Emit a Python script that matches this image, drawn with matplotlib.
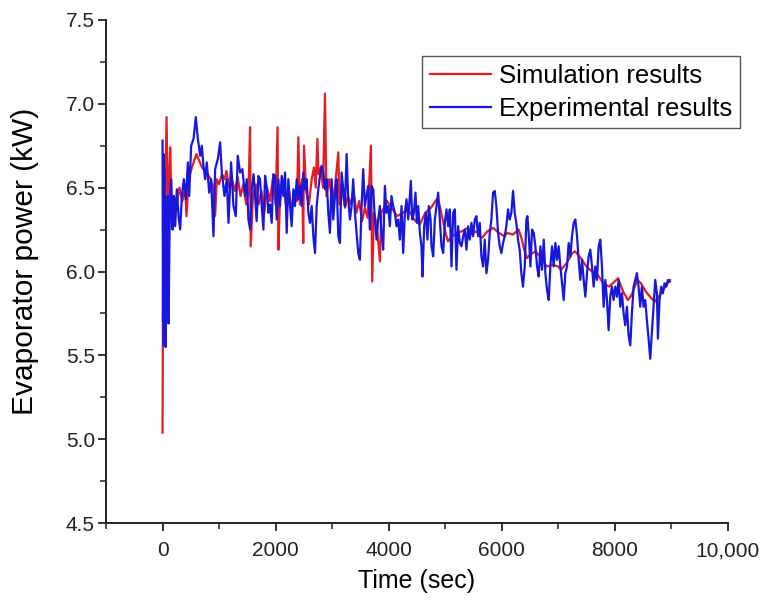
import matplotlib.pyplot as plt
from matplotlib.ticker import MultipleLocator

exp_t = [0, 8, 15, 22, 30, 38, 47, 55, 65, 77, 94, 106, 124, 140, 153, 177, 200, 224, 253, 283,
         312, 342, 377, 412, 448, 471, 507, 548, 589, 625, 666, 695, 724, 754, 783, 825, 860, 901, 931, 978,
         1019, 1049, 1096, 1137, 1167, 1213, 1255, 1296, 1331, 1372, 1413, 1461, 1490, 1520, 1550, 1579, 1610, 1638, 1665, 1696,
         1725, 1755, 1785, 1814, 1845, 1873, 1900, 1932, 1960, 1991, 2020, 2050, 2079, 2109, 2138, 2168, 2197, 2226, 2256, 2285,
         2315, 2344, 2374, 2403, 2433, 2462, 2491, 2521, 2550, 2580, 2609, 2639, 2668, 2698, 2727, 2756, 2786, 2815, 2845, 2874,
         2904, 2933, 2962, 2992, 3021, 3051, 3080, 3110, 3139, 3168, 3198, 3227, 3257, 3286, 3316, 3345, 3374, 3404, 3433, 3463,
         3492, 3522, 3551, 3580, 3610, 3639, 3669, 3698, 3728, 3757, 3787, 3816, 3845, 3875, 3904, 3934, 3963, 3993, 4022, 4051,
         4081, 4110, 4140, 4169, 4199, 4229, 4258, 4288, 4317, 4347, 4376, 4394, 4418, 4447, 4476, 4500, 4524, 4553, 4582, 4600,
         4630, 4659, 4688, 4712, 4742, 4759, 4789, 4818, 4848, 4877, 4907, 4936, 4966, 4995, 5024, 5054, 5083, 5113, 5142, 5172,
         5201, 5230, 5260, 5289, 5319, 5348, 5378, 5407, 5436, 5466, 5495, 5525, 5554, 5584, 5613, 5642, 5672, 5701, 5731, 5760,
         5790, 5819, 5848, 5878, 5907, 5937, 5966, 5996, 6025, 6054, 6084, 6113, 6143, 6172, 6202, 6231, 6260, 6290, 6319, 6349,
         6378, 6409, 6438, 6456, 6485, 6509, 6538, 6568, 6597, 6627, 6656, 6686, 6715, 6745, 6774, 6803, 6833, 6862, 6892, 6921,
         6951, 6980, 7010, 7039, 7069, 7098, 7127, 7157, 7186, 7216, 7245, 7275, 7304, 7334, 7363, 7392, 7422, 7451, 7481, 7510,
         7540, 7569, 7599, 7628, 7657, 7687, 7716, 7746, 7775, 7805, 7834, 7864, 7893, 7922, 7952, 7981, 8011, 8040, 8070, 8099,
         8129, 8158, 8187, 8217, 8246, 8276, 8305, 8335, 8364, 8394, 8423, 8452, 8482, 8511, 8541, 8570, 8600, 8629, 8659, 8688,
         8718, 8747, 8765, 8794, 8824, 8853, 8883, 8912, 8942, 8975]
exp_kw = [6.78, 5.70, 6.70, 5.56, 6.62, 5.60, 6.45, 5.55, 6.30, 5.71, 6.45, 5.69, 6.23, 6.50, 6.55, 6.25, 6.45, 6.27, 6.49, 6.33,
          6.25, 6.45, 6.55, 6.43, 6.65, 6.45, 6.75, 6.79, 6.92, 6.79, 6.69, 6.75, 6.63, 6.55, 6.65, 6.47, 6.55, 6.21, 6.61, 6.67,
          6.77, 6.59, 6.45, 6.55, 6.29, 6.65, 6.39, 6.33, 6.69, 6.59, 6.61, 6.45, 6.55, 6.31, 6.25, 6.49, 6.58, 6.45, 6.30, 6.57,
          6.55, 6.39, 6.25, 6.57, 6.50, 6.35, 6.40, 6.29, 6.58, 6.57, 6.31, 6.55, 6.39, 6.57, 6.45, 6.59, 6.23, 6.55, 6.39, 6.27,
          6.49, 6.39, 6.55, 6.43, 6.51, 6.39, 6.59, 6.49, 6.55, 6.35, 6.29, 6.39, 6.21, 6.11, 6.39, 6.49, 6.57, 6.63, 6.59, 6.49,
          6.55, 6.35, 6.23, 6.55, 6.31, 6.45, 6.55, 6.21, 6.17, 6.59, 6.49, 6.39, 6.70, 6.43, 6.31, 6.39, 6.55, 6.35, 6.23, 6.11,
          6.07, 6.39, 6.61, 6.39, 6.45, 6.51, 6.25, 6.51, 6.49, 6.31, 6.19, 6.31, 6.39, 6.23, 6.13, 6.51, 6.35, 6.39, 6.27, 6.45,
          6.39, 6.35, 6.27, 6.31, 6.19, 6.39, 6.11, 6.35, 6.43, 6.31, 6.45, 6.54, 6.31, 6.35, 6.47, 6.29, 6.39, 6.23, 6.15, 5.97,
          6.27, 6.35, 6.19, 6.39, 6.31, 6.15, 6.09, 6.31, 6.39, 6.47, 6.31, 6.15, 6.11, 6.29, 6.37, 6.27, 6.37, 6.03, 6.35, 6.37,
          6.01, 6.27, 6.17, 6.15, 6.21, 6.25, 6.13, 6.27, 6.19, 6.29, 6.21, 6.31, 6.33, 6.21, 6.29, 6.09, 6.03, 6.19, 5.99, 6.07,
          6.23, 6.31, 6.47, 6.48, 6.39, 6.23, 6.15, 6.11, 6.17, 6.21, 6.27, 6.37, 6.31, 6.35, 6.48, 6.35, 6.29, 6.19, 6.13, 5.99,
          5.91, 6.03, 6.31, 6.33, 6.19, 6.03, 6.25, 6.23, 6.15, 6.03, 5.97, 6.15, 6.01, 6.19, 5.99, 5.89, 5.83, 6.03, 6.15, 6.03,
          6.17, 6.07, 6.15, 6.03, 5.93, 5.83, 5.99, 6.03, 6.17, 6.09, 6.21, 6.29, 6.31, 6.21, 6.07, 5.95, 6.07, 5.95, 5.85, 5.99,
          6.09, 6.13, 6.03, 5.91, 6.03, 5.95, 6.15, 6.19, 6.03, 5.79, 5.95, 5.83, 5.65, 5.85, 5.91, 5.83, 5.91, 5.85, 5.95, 5.79,
          5.87, 5.75, 5.68, 5.79, 5.62, 5.56, 5.75, 5.91, 5.95, 5.99, 5.91, 5.79, 5.91, 5.79, 5.83, 5.71, 5.60, 5.48, 5.64, 5.79,
          5.95, 5.87, 5.60, 5.83, 5.91, 5.87, 5.93, 5.91, 5.95, 5.94]

# simulation results (red)
sim_t = [0, 15, 40, 71, 95, 115, 136, 160, 200, 250, 300, 350, 400, 424, 460, 520, 600, 650, 700, 750,
         800, 850, 900, 931, 960, 1000, 1050, 1100, 1131, 1180, 1230, 1280, 1330, 1380, 1430, 1480, 1520, 1549, 1560, 1600,
         1650, 1700, 1750, 1800, 1850, 1900, 1950, 2000, 2035, 2050, 2080, 2130, 2180, 2230, 2280, 2330, 2380, 2403, 2430, 2470,
         2490, 2503, 2540, 2590, 2640, 2680, 2710, 2740, 2760, 2800, 2840, 2874, 2900, 2950, 3000, 3050, 3110, 3130, 3180, 3230,
         3280, 3330, 3380, 3430, 3480, 3530, 3580, 3630, 3687, 3710, 3740, 3790, 3846, 3870, 3920, 3970, 4050, 4150, 4250, 4350,
         4450, 4550, 4650, 4750, 4850, 4900, 4950, 5000, 5050, 5100, 5200, 5300, 5400, 5450, 5550, 5650, 5750, 5850, 5950, 6050,
         6100, 6200, 6300, 6350, 6400, 6450, 6500, 6600, 6700, 6800, 6900, 7000, 7050, 7150, 7250, 7300, 7400, 7500, 7600, 7700,
         7800, 7900, 8000, 8060, 8150, 8235, 8300, 8400, 8465, 8550, 8650, 8710, 8800, 8900, 8980]
sim_kw = [5.04, 6.50, 6.30, 6.92, 6.35, 6.55, 6.74, 6.38, 6.45, 6.40, 6.50, 6.42, 6.50, 6.33, 6.55, 6.62, 6.70, 6.66, 6.62, 6.60,
          6.58, 6.55, 6.50, 6.33, 6.55, 6.52, 6.58, 6.55, 6.60, 6.50, 6.55, 6.48, 6.56, 6.45, 6.52, 6.40, 6.46, 6.86, 6.15, 6.45,
          6.52, 6.40, 6.48, 6.35, 6.50, 6.42, 6.55, 6.40, 6.86, 6.13, 6.45, 6.55, 6.40, 6.50, 6.36, 6.48, 6.42, 6.80, 6.40, 6.55,
          6.17, 6.75, 6.48, 6.40, 6.55, 6.62, 6.50, 6.79, 6.58, 6.62, 6.50, 7.06, 6.45, 6.55, 6.42, 6.50, 6.71, 6.40, 6.48, 6.38,
          6.45, 6.40, 6.48, 6.35, 6.42, 6.30, 6.38, 6.32, 6.75, 5.94, 6.35, 6.28, 6.06, 6.35, 6.38, 6.42, 6.38, 6.33, 6.35, 6.37,
          6.31, 6.28, 6.35, 6.38, 6.43, 6.40, 6.32, 6.24, 6.18, 6.20, 6.23, 6.24, 6.26, 6.22, 6.24, 6.20, 6.24, 6.26, 6.23, 6.21,
          6.23, 6.22, 6.25, 6.20, 6.13, 6.08, 6.10, 6.12, 6.08, 6.03, 6.04, 6.03, 6.01, 6.05, 6.11, 6.12, 6.08, 6.03, 6.00, 5.98,
          5.93, 5.91, 5.94, 5.96, 5.88, 5.83, 5.86, 5.95, 5.93, 5.88, 5.84, 5.82, 5.86, 5.91, 5.95]

x_ticks = [0, 2000, 4000, 6000, 8000, 10000]
x_ticklabels = ['0', '2000', '4000', '6000', '8000', '10,000']
y_ticks = [4.5, 5.0, 5.5, 6.0, 6.5, 7.0, 7.5]

plt.rcParams['font.family'] = ['Liberation Sans', 'DejaVu Sans']

fig = plt.figure(figsize=(7.6, 6), dpi=100)
ax = fig.add_axes([0.1395, 0.128, 0.818, 0.839])

ax.plot(sim_t, sim_kw, color='#e61c20', lw=1.6, label='Simulation results')
ax.plot(exp_t, exp_kw, color='#1717e0', lw=1.6, label='Experimental results')

ax.set_xlim(-1000, 10000)
ax.set_ylim(4.5, 7.5)
ax.set_xticks(x_ticks)
ax.set_xticklabels(x_ticklabels, fontsize=15)
ax.set_yticks(y_ticks)
ax.set_yticklabels(['%.1f' % v for v in y_ticks], fontsize=15)
ax.xaxis.set_minor_locator(MultipleLocator(1000))
ax.yaxis.set_minor_locator(MultipleLocator(0.25))

for s in ['top', 'right']:
    ax.spines[s].set_visible(False)
for s in ['left', 'bottom']:
    ax.spines[s].set_linewidth(1.4)
    ax.spines[s].set_color('#222222')

ax.tick_params(which='major', direction='out', length=6, width=1.3, colors='#222222')
ax.tick_params(which='minor', direction='out', length=4, width=1.1, colors='#222222')
ax.tick_params(axis='x', pad=7)
ax.tick_params(axis='y', pad=2)

ax.set_xlabel('Time (sec)', fontsize=18, labelpad=6)
ax.set_ylabel('Evaporator power (kW)', fontsize=21.5)
ax.yaxis.set_label_coords(-0.108, 0.52)

leg = ax.legend(loc='upper right', bbox_to_anchor=(1.02, 0.928), fontsize=18.5,
                fancybox=False, framealpha=1, edgecolor='#555555',
                handlelength=2.4, handletextpad=0.3, borderpad=0.3,
                labelspacing=0.35, borderaxespad=0)
leg.get_frame().set_linewidth(1.0)

fig.savefig('out.png', dpi=100)
